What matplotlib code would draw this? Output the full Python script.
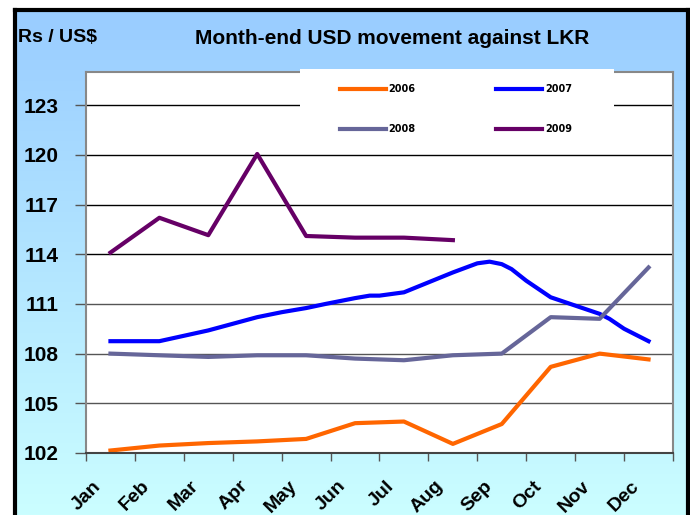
import numpy as np
import matplotlib.pyplot as plt
import matplotlib.transforms as mtransforms
from matplotlib.colors import LinearSegmentedColormap
from matplotlib.patches import Rectangle

# data (Rs per US$, month-end)
months = ["Jan", "Feb", "Mar", "Apr", "May", "Jun",
          "Jul", "Aug", "Sep", "Oct", "Nov", "Dec"]
usd_2006 = [102.15, 102.45, 102.6, 102.7, 102.85, 103.8,
            103.9, 102.55, 103.75, 107.2, 108.0, 107.65]
# 2007 series has some in-between readings (month index, value)
usd_2007_month = [0, 1, 2, 3, 3.5, 4, 4.4, 5, 5.3, 5.5, 6, 7, 7.5, 7.75,
                  8, 8.2, 8.5, 9, 9.6, 10, 10.2, 10.5, 11]
usd_2007 = [108.75, 108.75, 109.4, 110.2, 110.5, 110.75, 111.0, 111.35, 111.5,
            111.5, 111.7, 112.9, 113.45, 113.55, 113.4, 113.1, 112.4, 111.4,
            110.8, 110.4, 110.1, 109.5, 108.75]
usd_2008 = [108.0, 107.9, 107.8, 107.9, 107.9, 107.7,
            107.6, 107.9, 108.0, 110.2, 110.1, 113.2]
usd_2009 = [114.1, 116.2, 115.15, 120.05, 115.1, 115.0, 115.0, 114.85]
yticks = [102, 105, 108, 111, 114, 117, 120, 123]

plt.rcParams['font.family'] = 'Liberation Sans'
plt.rcParams['font.weight'] = 'bold'

W, H = 690, 515
fig = plt.figure(figsize=(W / 100, H / 100), dpi=100)

# blue gradient panel with black frame
bg = fig.add_axes([15 / W, -0.02, (688 - 15) / W, 1.02 - 10 / H])
bg.set_zorder(-1)
cmap = LinearSegmentedColormap.from_list("bg", ["#CCFFFF", "#99CCFF"])
bg.imshow(np.linspace(0, 1, 256).reshape(-1, 1), cmap=cmap, aspect="auto",
          origin="lower", extent=[0, 1, 0, 1])
bg.set_xticks([])
bg.set_yticks([])
for side in ["left", "right", "top"]:
    bg.spines[side].set_linewidth(3)
    bg.spines[side].set_color("black")
bg.spines["bottom"].set_visible(False)

# plot area
ax = fig.add_axes([86 / W, 62 / H, 587 / W, 381 / H])
ax.set_facecolor("white")

lw = 3
l06, = ax.plot(range(12), usd_2006, color="#FF6600", lw=lw, label="2006", solid_joinstyle="round")
l07, = ax.plot(usd_2007_month, usd_2007, color="#0000FF", lw=lw, label="2007", solid_joinstyle="round")
l08, = ax.plot(range(12), usd_2008, color="#666699", lw=lw, label="2008", solid_joinstyle="round")
l09, = ax.plot(range(len(usd_2009)), usd_2009, color="#660066", lw=lw, label="2009", solid_joinstyle="round")

ax.set_xlim(-0.5, 11.5)
ax.set_ylim(102, 125)

# y axis
ax.set_yticks(yticks)
ax.set_yticklabels([str(v) for v in yticks], fontsize=15, fontweight="bold")
ax.tick_params(axis="y", length=8, width=1, color="#555555", pad=12)
ax.yaxis.grid(True, linewidth=1)
for v, gl in zip(yticks, ax.get_ygridlines()):
    gl.set_color("#000000" if v >= 114 else "#555555")

# x axis: labels at category centres, tick marks between
ax.set_xticks(range(12))
ax.set_xticklabels(months, fontsize=14, fontweight="bold")
ax.set_xticks(np.arange(-0.5, 12, 1), minor=True)
ax.tick_params(axis="x", which="major", length=0, pad=22)
ax.tick_params(axis="x", which="minor", length=6, width=1, color="#555555")
shift = mtransforms.ScaledTranslation(-0.12, 0, fig.dpi_scale_trans)
for lbl in ax.get_xticklabels():
    lbl.set_rotation(45)
    lbl.set_ha("right")
    lbl.set_va("center")
    lbl.set_rotation_mode("anchor")
    lbl.set_transform(lbl.get_transform() + shift)

for side in ["left", "right", "top"]:
    ax.spines[side].set_color("#888888")
    ax.spines[side].set_linewidth(1.5)
ax.spines["bottom"].set_color("#444444")
ax.spines["bottom"].set_linewidth(1.5)

# white legend box over the top of the plot area
fig.patches.append(Rectangle((300 / W, 1 - 148 / H), 314 / W, 79 / H,
                             transform=fig.transFigure, facecolor="white",
                             edgecolor="none", zorder=1))
# row-wise order: 2006 2007 / 2008 2009
fig.legend([l06, l08, l07, l09], ["2006", "2008", "2007", "2009"],
           loc="upper left", bbox_to_anchor=(340 / W, 1 - 84 / H), ncol=2,
           frameon=False, prop={"family": "DejaVu Sans", "weight": "bold", "size": 7},
           handlelength=4.7, handletextpad=0.3, columnspacing=8.3,
           labelspacing=3.1, borderpad=0, borderaxespad=0)

fig.text(18 / W, 1 - 37 / H, "Rs / US$", fontsize=14, fontweight="bold", va="center")
fig.text(392 / W, 1 - 38 / H, "Month-end USD movement against LKR",
         fontsize=15, fontweight="bold", ha="center", va="center")

fig.savefig("out.png", dpi=100)
